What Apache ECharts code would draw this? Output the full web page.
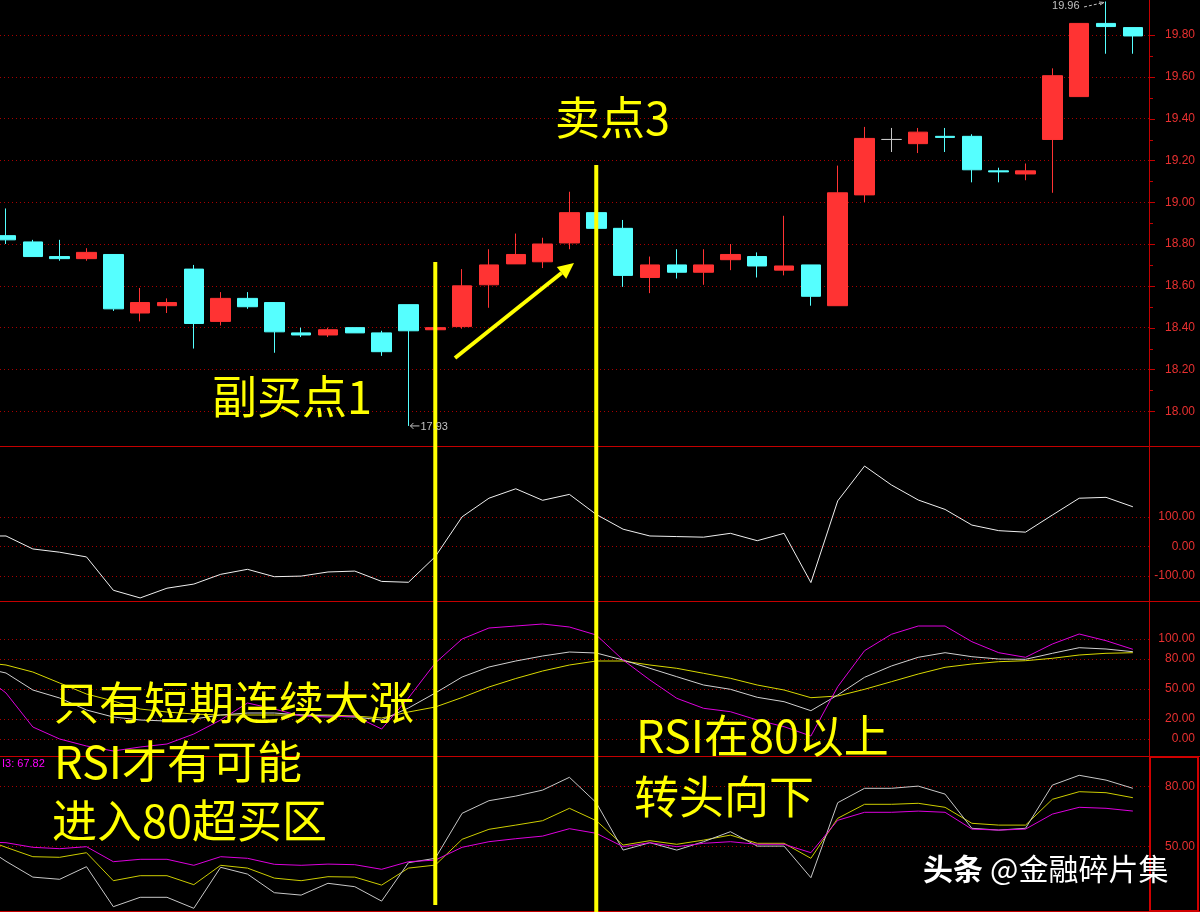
<!DOCTYPE html>
<html>
<head>
<meta charset="utf-8">
<script src="https://cdn.jsdelivr.net/npm/echarts@6/dist/echarts.min.js"></script>
<style>
  html, body { margin: 0; padding: 0; background: #000; overflow: hidden; width: 1200px; height: 912px; }
  /* the canvas starts 40px left of the page so the previous session can sit just off-screen */
  #chart { position: absolute; left: -40px; top: 0; width: 1240px; height: 912px; }
</style>
</head>
<body>
<div id="chart"></div>
<script>
// Trading-day slots; slot 0 is the previous session, only its indicator values remain on screen.
const days = ['0','1','2','3','4','5','6','7','8','9','10','11','12','13','14','15','16','17','18','19','20','21',
              '22','23','24','25','26','27','28','29','30','31','32','33','34','35','36','37','38','39','40','41','42','43'];

// Daily candles (slots 1..43)
const opens  = [18.84, 18.81, 18.74, 18.73, 18.75, 18.47, 18.505, 18.68, 18.43, 18.54, 18.52, 18.375, 18.365, 18.40, 18.375,
                18.51, 18.39, 18.405, 18.605, 18.705, 18.715, 18.805, 18.95, 18.875, 18.64, 18.70, 18.665, 18.725, 18.74,
                18.675, 18.70, 18.505, 19.035, 19.30, 19.28, 19.315, 19.315, 19.15, 19.135, 19.30, 19.505, 19.855, 19.835];
const closes = [18.82, 18.74, 18.73, 18.76, 18.49, 18.52, 18.52, 18.42, 18.54, 18.50, 18.38, 18.365, 18.39, 18.375, 18.285,
                18.385, 18.40, 18.60, 18.70, 18.75, 18.80, 18.95, 18.875, 18.65, 18.70, 18.665, 18.70, 18.75, 18.695,
                18.695, 18.55, 19.045, 19.305, 19.30, 19.335, 19.31, 19.155, 19.145, 19.15, 19.605, 19.855, 19.84, 19.795];
const lows   = [18.80, 18.74, 18.72, 18.72, 18.48, 18.43, 18.47, 18.30, 18.41, 18.49, 18.28, 18.355, 18.355, 18.375, 18.265,
                17.93, 18.385, 18.395, 18.495, 18.705, 18.685, 18.775, 18.875, 18.595, 18.565, 18.635, 18.605, 18.675, 18.64,
                18.65, 18.505, 18.505, 19.00, 19.24, 19.235, 19.24, 19.095, 19.095, 19.105, 19.045, 19.505, 19.71, 19.71];
const highs  = [18.97, 18.82, 18.82, 18.78, 18.75, 18.59, 18.54, 18.70, 18.57, 18.57, 18.52, 18.40, 18.40, 18.40, 18.385,
                18.51, 18.41, 18.68, 18.775, 18.85, 18.83, 19.05, 18.95, 18.915, 18.74, 18.775, 18.775, 18.80, 18.76,
                18.935, 18.70, 19.175, 19.36, 19.355, 19.355, 19.355, 19.325, 19.165, 19.185, 19.64, 19.855, 19.96, 19.835];

// CCI-style oscillator (slots 0..43)
const cci = [35, 35, -9, -20, -36, -149, -175, -142, -128, -95, -78, -103, -101, -87, -84, -119, -122, -35, 100, 163, 195,
             156, 176, 108, 58, 35, 33, 31, 44, 19, 44, -123, 154, 272, 208, 157, 125, 72, 53, 48, 106, 163, 166, 134];

// RSI pane (slots 0..43)
const rsi1 = [67, 46, 12, 0, -7, -12, -8, -5, 5, 19, 36, 30, 23, 22, 23, 10, 41, 76, 100, 111, 113, 115, 112, 104,
              79, 59, 40.7, 30.7, 27.3, 19, 12.3, 3, 52.3, 88.3, 104.7, 113, 113, 97.3, 86.3, 81.7, 95, 105, 98.3, 89.7];
const rsi2 = [72, 66, 49, 41, 29, 22, 19, 18, 20, 24, 26, 26, 24, 23, 22, 19, 31, 46, 62, 72, 78, 83, 87, 86,
              79, 70.7, 62.3, 54, 49.7, 41.7, 37.3, 28.3, 44, 61.7, 73, 81.7, 86.3, 82.3, 80, 79.7, 85.7, 91.3, 90, 87.3];
const rsi3 = [77, 74, 67, 56, 45, 38, 30, 27, 25, 24, 24, 24, 24, 24, 23, 21, 27, 32, 41.5, 52, 60.5, 68, 74, 78,
              78, 74, 70.7, 65.7, 60.7, 54, 49, 41.3, 43, 49.7, 57.3, 65, 71.7, 75, 77.3, 78.3, 80.7, 84, 85.7, 86.3];

// Bottom pane lines (slots 0..43)
const lowerI1 = [51.6, 42.7, 34.8, 33.7, 40, 20, 24.7, 24.7, 19.2, 39.7, 36.3, 27, 25.8, 31.7, 30, 22.8, 42, 44.2, 66.7, 73, 75.3, 78.3, 84.7, 72,
                 48.3, 52, 48.3, 52.5, 57.5, 50.3, 50.3, 34.5, 72, 79.2, 79.2, 80.3, 76.3, 59.2, 58.3, 59.2, 80.8, 85.7, 83.3, 79.2];
const lowerI2 = [54.6, 49.7, 45, 44.7, 47, 33, 35.5, 35.5, 31, 40.7, 39.3, 34.3, 33, 35, 34.8, 30.8, 39.3, 40.8, 53.7, 58.7, 60.8, 63, 69.2, 63,
                 50.8, 53, 51.2, 53.3, 55.8, 51.7, 51.7, 44.2, 64.2, 71.2, 71.2, 71.7, 69.7, 61.7, 60.8, 60.8, 73.7, 77.5, 77, 74.5];
const lowerI3 = [52.5, 52, 49.7, 49, 50, 42.5, 43.7, 43.7, 40.7, 45, 44.2, 41.2, 40.7, 41.3, 41, 38.7, 42.5, 43.3, 49.7, 52.5, 54, 55.3, 59, 56.7,
                 50, 52, 50, 51.7, 52.5, 51.2, 51.2, 47, 63.2, 67.2, 67.2, 67.8, 67.2, 58.8, 58.3, 58.8, 66.3, 69.7, 69.2, 67.82];

// Scale labels
const priceTicks = [18.0, 18.2, 18.4, 18.6, 18.8, 19.0, 19.2, 19.4, 19.6, 19.8];
const cciTicks = [-100, 0, 100];
const rsiTicks = [0, 20, 50, 80, 100];
const lowerTicks = [50, 80];

// Marked sessions (slot numbers)
const buySlot = 17;
const sellSlot = 23;

const OX = 40;                 // canvas x of the page's left edge
const RED_LINE = '#c40000';
const RED_DOT = '#a80000';
const RED_TEXT = '#e83030';
const YELLOW = '#ffff00';
const FONT = '"Liberation Sans", Arial, sans-serif';
const CJK = '"Noto Sans CJK SC", sans-serif';

const candleData = [['-', '-', '-', '-']].concat(opens.map((o, i) => [o, closes[i], lows[i], highs[i]]));

const DATA_LEFT = OX - 34.245;
const DATA_W = 1180.52;
const SCALE_W = 1149;

function hiddenCat(gi) {
  return { type: 'category', gridIndex: gi, data: days, boundaryGap: true, show: false };
}
function hiddenVal(gi) {
  return { type: 'value', gridIndex: gi, min: 0, max: 1, show: false };
}
function scaleAxis(gi, min, max, interval, fmt, extra) {
  return Object.assign({
    type: 'value', gridIndex: gi, position: 'right', min: min, max: max, interval: interval,
    axisLine: { show: false },
    axisTick: { show: false },
    minorTick: { show: false },
    axisLabel: { color: RED_TEXT, fontSize: 12, fontFamily: FONT, align: 'right', margin: 46, formatter: fmt },
    splitLine: { show: true, lineStyle: { color: RED_DOT, type: [1, 3], width: 1 } }
  }, extra || {});
}
function line(gi, data, color) {
  return {
    type: 'line', xAxisIndex: gi, yAxisIndex: gi, data: data, symbol: 'none', silent: true,
    lineStyle: { width: 1, color: color }, itemStyle: { color: color }
  };
}

const option = {
  backgroundColor: '#000',
  animation: false,
  grid: [
    { left: DATA_LEFT, width: DATA_W, top: 0, height: 446 },
    { left: DATA_LEFT, width: DATA_W, top: 446, height: 155 },
    { left: DATA_LEFT, width: DATA_W, top: 601, height: 154 },
    { left: DATA_LEFT, width: DATA_W, top: 756, height: 155 },
    { left: OX, width: SCALE_W, top: 35, height: 376.3 },
    { left: OX, width: SCALE_W, top: 516.8, height: 59 },
    { left: OX, width: SCALE_W, top: 639, height: 100 },
    { left: OX, width: SCALE_W, top: 786.7, height: 60 }
  ],
  xAxis: [hiddenCat(0), hiddenCat(1), hiddenCat(2), hiddenCat(3),
          hiddenVal(4), hiddenVal(5), hiddenVal(6), hiddenVal(7)],
  yAxis: [
    { type: 'value', gridIndex: 0, min: 17.834, max: 19.967, show: false },
    { type: 'value', gridIndex: 1, min: -185.4, max: 340, show: false },
    { type: 'value', gridIndex: 2, min: -16, max: 138, show: false },
    { type: 'value', gridIndex: 3, min: 17.85, max: 95.35, show: false },
    scaleAxis(4, priceTicks[0], priceTicks[priceTicks.length - 1], 0.2, v => v.toFixed(2)),
    scaleAxis(5, cciTicks[0], cciTicks[cciTicks.length - 1], 100, v => v.toFixed(2)),
    scaleAxis(6, 0, 100, 10, v => (rsiTicks.indexOf(Math.round(v)) >= 0 ? v.toFixed(2) : ''), {
      splitLine: { show: true, lineStyle: {
        type: [1, 3], width: 1,
        color: [0, 10, 20, 30, 40, 50, 60, 70, 80, 90, 100].map(v => rsiTicks.indexOf(v) >= 0 ? RED_DOT : 'rgba(0,0,0,0)')
      } }
    }),
    scaleAxis(7, lowerTicks[0], lowerTicks[lowerTicks.length - 1], 30, v => v.toFixed(2))
  ],
  series: [
    {
      type: 'candlestick', xAxisIndex: 0, yAxisIndex: 0, data: candleData, barWidth: 20, silent: true,
      itemStyle: {
        color: '#ff3333', color0: '#55ffff',
        borderColor: '#ff3333', borderColor0: '#55ffff', borderColorDoji: '#c8c8c8', borderWidth: 1
      }
    },
    line(1, cci, '#f0f0f0'),
    line(2, rsi3, '#d8d800'),
    line(2, rsi2, '#d0d0d0'),
    line(2, rsi1, '#dd00dd'),
    line(3, lowerI2, '#cccc00'),
    line(3, lowerI1, '#c8c8c8'),
    line(3, lowerI3, '#dd00dd')
  ]
};

const chart = echarts.init(document.getElementById('chart'), null, { renderer: 'canvas' });
chart.setOption(option);

// Overlay: pane frames, price ticks, marked sessions, notes
const xAt = slot => chart.convertToPixel({ xAxisIndex: 0 }, slot);
const priceY = v => chart.convertToPixel({ yAxisIndex: 4 }, v);
const buyX = xAt(buySlot);
const sellX = xAt(sellSlot);

const hiIdx = highs.indexOf(Math.max.apply(null, highs));
const loIdx = lows.indexOf(Math.min.apply(null, lows));
const hiPt = chart.convertToPixel({ gridIndex: 0 }, [hiIdx + 1, highs[hiIdx]]);
const loPt = chart.convertToPixel({ gridIndex: 0 }, [loIdx + 1, lows[loIdx]]);

function txt(x, y, text, size, color, weight, family) {
  return {
    type: 'text', x: x, y: y, z: 100, silent: true,
    style: {
      text: text, fill: color, font: (weight || 'normal') + ' ' + size + 'px ' + (family || CJK),
      textAlign: 'left', textVerticalAlign: 'middle', align: 'left', verticalAlign: 'middle'
    }
  };
}
function seg(x1, y1, x2, y2, color, w, dash) {
  return {
    type: 'line', z: 100, silent: true,
    shape: { x1: x1, y1: y1, x2: x2, y2: y2 },
    style: { stroke: color, lineWidth: w, lineDash: dash || null }
  };
}

const graphics = [];
[446, 601, 756, 911].forEach(y => graphics.push(seg(OX, y + 0.5, OX + 1200, y + 0.5, RED_LINE, 1)));
graphics.push(seg(OX + 1149.5, 0, OX + 1149.5, 912, RED_LINE, 1));
graphics.push({
  type: 'rect', z: 100, silent: true,
  shape: { x: OX + 1150, y: 757, width: 48, height: 154 },
  style: { fill: null, stroke: '#d00000', lineWidth: 2 }
});

// price scale ticks: long at labelled steps, short halfway between
priceTicks.forEach((v, i) => {
  const y = Math.round(priceY(v)) + 0.5;
  graphics.push(seg(OX + 1150, y, OX + 1155, y, RED_LINE, 1));
  if (i < priceTicks.length - 1) {
    const ym = Math.round(priceY((v + priceTicks[i + 1]) / 2)) + 0.5;
    graphics.push(seg(OX + 1150, ym, OX + 1153, ym, RED_LINE, 1));
  }
});

// marked sessions
graphics.push(seg(buyX, 262, buyX, 905, YELLOW, 4));
graphics.push(seg(sellX, 165, sellX, 912, YELLOW, 4));

// rising arrow
const ax1 = OX + 455, ay1 = 358, ax2 = OX + 574, ay2 = 263;
const len = Math.hypot(ax2 - ax1, ay2 - ay1);
const ux = (ax2 - ax1) / len, uy = (ay2 - ay1) / len;
const bx = ax2 - 16 * ux, by = ay2 - 16 * uy;
graphics.push(seg(ax1, ay1, bx, by, YELLOW, 4));
graphics.push({
  type: 'polygon', z: 100, silent: true,
  shape: { points: [[ax2, ay2], [bx - 7.5 * uy, by + 7.5 * ux], [bx + 7.5 * uy, by - 7.5 * ux]] },
  style: { fill: YELLOW }
});

// price extremes
graphics.push(txt(hiPt[0] - 54, hiPt[1] + 5, highs[hiIdx].toFixed(2), 11, '#c0c0c0', 'normal', FONT));
graphics.push(seg(hiPt[0] - 22, hiPt[1] + 5.5, hiPt[0] - 2, hiPt[1] + 1, '#c0c0c0', 1, [3, 2]));
graphics.push(seg(hiPt[0] - 2, hiPt[1] + 1, hiPt[0] - 7, hiPt[1] + 0.5, '#c0c0c0', 1));
graphics.push(seg(hiPt[0] - 2, hiPt[1] + 1, hiPt[0] - 6, hiPt[1] + 3.5, '#c0c0c0', 1));
graphics.push(seg(loPt[0] + 2, loPt[1], loPt[0] + 11, loPt[1], '#c0c0c0', 1));
graphics.push(seg(loPt[0] + 2, loPt[1], loPt[0] + 5, loPt[1] - 3, '#c0c0c0', 1));
graphics.push(seg(loPt[0] + 2, loPt[1], loPt[0] + 5, loPt[1] + 3, '#c0c0c0', 1));
graphics.push(txt(loPt[0] + 12, loPt[1] + 1, lows[loIdx].toFixed(2), 11, '#c0c0c0', 'normal', FONT));

// indicator readout
graphics.push(txt(OX + 2, 764, 'I3: ' + lowerI3[lowerI3.length - 1].toFixed(2), 11, '#ff00ff', 'normal', FONT));

// notes
graphics.push(txt(OX + 555, 118, '卖点3', 45, YELLOW));
graphics.push(txt(OX + 212, 397, '副买点1', 45, YELLOW));
graphics.push(txt(OX + 54, 703, '只有短期连续大涨', 45, YELLOW));
graphics.push(txt(OX + 54, 762, 'RSI才有可能', 45, YELLOW));
graphics.push(txt(OX + 52, 821, '进入80超买区', 45, YELLOW));
graphics.push(txt(OX + 636, 736, 'RSI在80以上', 45, YELLOW));
graphics.push(txt(OX + 634, 797, '转头向下', 45, YELLOW));

// source mark
graphics.push(txt(OX + 923, 869, '头条', 30, '#ffffff', 'bold'));
graphics.push(txt(OX + 990, 869, '@金融碎片集', 30, '#ffffff'));

chart.setOption({ graphic: graphics });
</script>
</body>
</html>
